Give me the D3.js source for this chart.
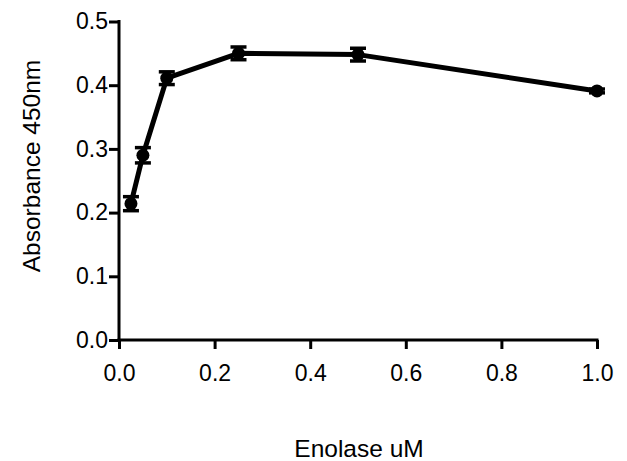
<!DOCTYPE html>
<html>
<head>
<meta charset="utf-8">
<script src="https://cdn.jsdelivr.net/npm/d3@7"></script>
<style>
  html, body { margin: 0; padding: 0; background: #fff; }
  svg { display: block; }
  text { font-family: "Liberation Sans", Arial, sans-serif; fill: #000; }
</style>
</head>
<body>
<svg id="chart" width="627" height="461"></svg>
<script>
// Data
const concentration = [0.025, 0.05, 0.1, 0.25, 0.5, 1.0];      // Enolase uM
const absorbance    = [0.214, 0.290, 0.411, 0.450, 0.448, 0.391]; // Absorbance 450nm (mean)
const errorSEM      = [0.011, 0.012, 0.010, 0.010, 0.010, 0.003];
const xTicks = [0.0, 0.2, 0.4, 0.6, 0.8, 1.0];
const yTicks = [0.0, 0.1, 0.2, 0.3, 0.4, 0.5];
const xTitle = "Enolase uM";
const yTitle = "Absorbance 450nm";

const svg = d3.select("#chart");
const x = d3.scaleLinear().domain([0, 1.0]).range([119, 597]);
const y = d3.scaleLinear().domain([0, 0.5]).range([340, 21.5]);

const data = concentration.map((c, i) => ({ x: c, y: absorbance[i], e: errorSEM[i] }));

// Axes
const xAxis = svg.append("g")
  .attr("transform", `translate(0,${y(0)})`)
  .call(d3.axisBottom(x).tickValues(xTicks).tickFormat(d3.format(".1f")).tickSize(9).tickSizeOuter(0).tickPadding(16));
const yAxis = svg.append("g")
  .attr("transform", `translate(${x(0)},0)`)
  .call(d3.axisLeft(y).tickValues(yTicks).tickFormat(d3.format(".1f")).tickSize(10).tickSizeOuter(0).tickPadding(1));

[xAxis, yAxis].forEach(g => {
  g.select(".domain").attr("stroke", "#000").attr("stroke-width", 3);
  g.selectAll(".tick line").attr("stroke", "#000").attr("stroke-width", 3);
  g.selectAll(".tick text").attr("font-size", 23).attr("fill", "#000")
    .attr("font-family", "Liberation Sans, Arial, sans-serif");
});
xAxis.select(".domain").attr("d", `M${x(0)-1.5},0H${x(1)+1.5}`);
yAxis.select(".domain").attr("d", `M0,${y(0)+1.5}V${y(0.5)-1.5}`);

// Line
svg.append("path")
  .datum(data)
  .attr("fill", "none")
  .attr("stroke", "#000")
  .attr("stroke-width", 5)
  .attr("stroke-linejoin", "round")
  .attr("d", d3.line().x(d => x(d.x)).y(d => y(d.y)));

// Error bars
const eb = svg.append("g").attr("stroke", "#000").attr("stroke-width", 3.5);
data.forEach(d => {
  eb.append("line").attr("x1", x(d.x)).attr("x2", x(d.x)).attr("y1", y(d.y - d.e)).attr("y2", y(d.y + d.e));
  [d.y - d.e, d.y + d.e].forEach(v => {
    eb.append("line").attr("x1", x(d.x) - 8).attr("x2", x(d.x) + 8).attr("y1", y(v)).attr("y2", y(v));
  });
});

// Markers
svg.append("g").selectAll("circle").data(data).join("circle")
  .attr("cx", d => x(d.x)).attr("cy", d => y(d.y)).attr("r", 6.5).attr("fill", "#000");

// Titles
svg.append("text").attr("x", 359).attr("y", 457).attr("text-anchor", "middle")
  .attr("font-size", 24.5).text(xTitle);
svg.append("text").attr("transform", "translate(39.5,166) rotate(-90)").attr("text-anchor", "middle")
  .attr("font-size", 24.5).text(yTitle);
</script>
</body>
</html>
